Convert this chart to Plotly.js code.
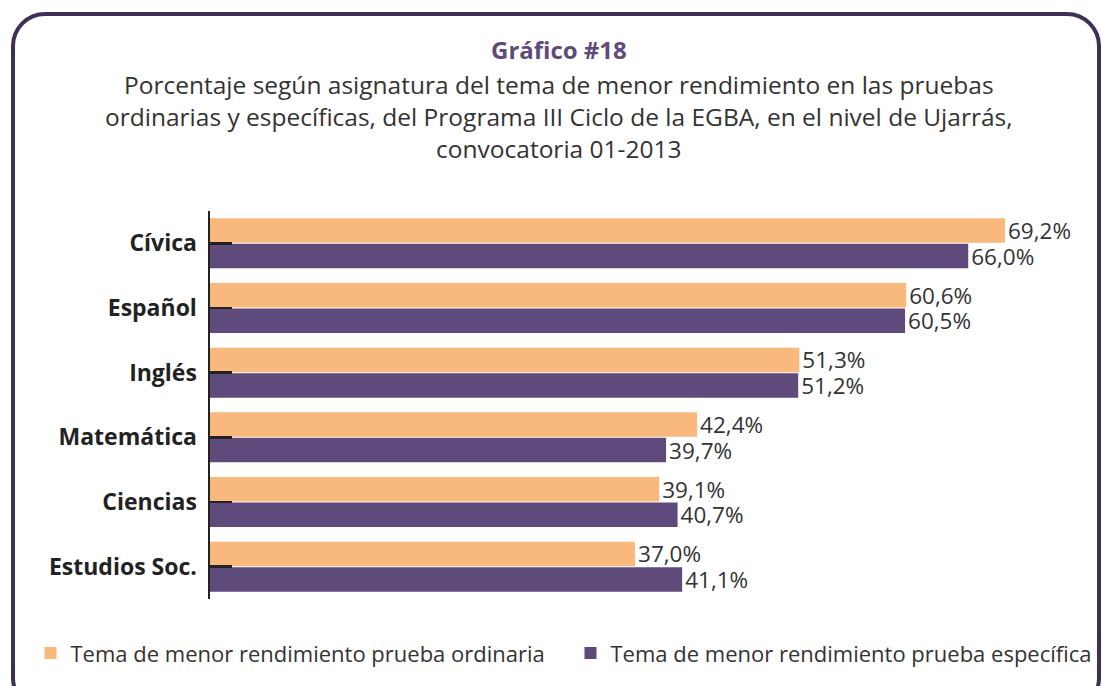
<!DOCTYPE html>
<html>
<head>
<meta charset="utf-8">
<script src="https://cdn.plot.ly/plotly-3.0.1.min.js"></script>
<style>
  html, body { margin: 0; padding: 0; background: #fff; overflow: hidden; }
  #wrap { position: relative; width: 1102px; height: 686px; }
  #chart { position: absolute; left: 0; top: 0; width: 1102px; height: 686px; }
  #frame { position: absolute; left: 11px; top: 12px; width: 1090px; height: 700px;
           border: 4.5px solid #3f2e56; border-radius: 34px; box-sizing: border-box; pointer-events: none; }
</style>
</head>
<body>
<div id="wrap">
  <div id="chart"></div>
  <div id="frame"></div>
</div>
<script>
const categories = ["Cívica", "Español", "Inglés", "Matemática", "Ciencias", "Estudios Soc."];
const ordinaria = [69.2, 60.6, 51.3, 42.4, 39.1, 37.0];
const especifica = [66.0, 60.5, 51.2, 39.7, 40.7, 41.1];
const seriesNames = ["Tema de menor rendimiento prueba ordinaria", "Tema de menor rendimiento prueba específica"];

const FONT = "'Open Sans', Lato, sans-serif";

const traces = [
  {
    type: "bar", orientation: "h", name: seriesNames[0],
    y: categories, x: ordinaria,
    marker: { color: "#f9b97d" },
    texttemplate: "%{x:.1f}%", textposition: "outside", cliponaxis: false, constraintext: "none",
    textfont: { family: FONT, size: 22.5, color: "#333333" },
    hoverinfo: "skip"
  },
  {
    type: "bar", orientation: "h", name: seriesNames[1],
    y: categories, x: especifica,
    marker: { color: "#5e4a7b" },
    texttemplate: "%{x:.1f}%", textposition: "outside", cliponaxis: false, constraintext: "none",
    textfont: { family: FONT, size: 22.5, color: "#333333" },
    hoverinfo: "skip"
  }
];

const layout = {
  width: 1102, height: 686,
  margin: { l: 210, r: 12, t: 210.6, b: 86.6, autoexpand: false },
  paper_bgcolor: "rgba(0,0,0,0)", plot_bgcolor: "rgba(0,0,0,0)",
  separators: ",.",
  barmode: "group", bargap: 0.21, bargroupgap: 0.04,
  showlegend: true,
  font: { family: FONT, color: "#333333" },
  xaxis: {
    range: [0, 76.6], showgrid: false, zeroline: false, showticklabels: false,
    ticks: "", showline: false, fixedrange: true
  },
  yaxis: {
    range: [5.5, -0.5], type: "category",
    showline: true, linecolor: "#222222", linewidth: 2.5,
    ticks: "inside", ticklen: 22, tickwidth: 2.5, tickcolor: "#222222",
    ticklabelstandoff: 6,
    tickfont: { family: FONT, size: 23, color: "#222222", weight: "bold" },
    showgrid: false, zeroline: false, fixedrange: true
  },
  legend: {
    orientation: "h", x: -0.204, xanchor: "left", y: -0.14, yanchor: "middle",
    entrywidth: 495, entrywidthmode: "pixels",
    font: { family: FONT, size: 22, color: "#333333" },
    traceorder: "normal", itemclick: false, itemdoubleclick: false
  },
  annotations: [
    {
      xref: "paper", yref: "paper", x: 0.397, y: 1 + (210.6 - 48.5) / 388.8,
      xanchor: "center", yanchor: "middle", showarrow: false,
      text: "<b>Gráfico #18</b>",
      font: { family: FONT, size: 24, color: "#5e4a7b" }
    },
    {
      xref: "paper", yref: "paper", x: 0.397, y: 1 + (210.6 - 115.5) / 388.8,
      xanchor: "center", yanchor: "middle", showarrow: false, align: "center",
      text: "Porcentaje según asignatura del tema de menor rendimiento en las pruebas<br>ordinarias y específicas, del Programa III Ciclo de la EGBA, en el nivel de Ujarrás,<br>convocatoria 01-2013",
      font: { family: FONT, size: 24.5, color: "#333333" }
    }
  ]
};

Plotly.newPlot("chart", traces, layout, { displayModeBar: false, staticPlot: true });
</script>
</body>
</html>
